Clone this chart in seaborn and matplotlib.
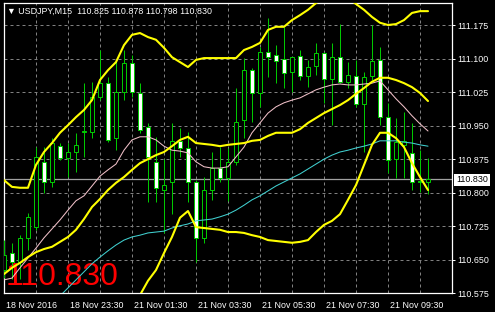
import matplotlib
matplotlib.use("Agg")
import matplotlib.pyplot as plt
import seaborn as sns
import numpy as np
from matplotlib.transforms import ScaledTranslation

# ---------------- data ----------------
bars = list(range(54))
opens = [110.628, 110.666, 110.644, 110.699, 110.723, 110.869, 110.823, 110.904, 110.878, 110.891,
         110.936, 110.936, 111.014, 111.045, 110.922, 111.025, 111.090, 111.023, 110.947, 110.869,
         110.806, 110.823, 110.916, 110.900, 110.823, 110.699, 110.806, 110.855, 110.833, 110.869,
         110.963, 111.074, 111.023, 111.115, 111.108, 111.099, 111.070, 111.106, 111.061, 111.083,
         111.112, 111.054, 111.103, 111.048, 111.061, 110.998, 111.061, 111.097, 110.969, 110.875,
         110.907, 110.889, 110.827, 110.825]
highs = [110.694, 110.688, 110.705, 110.755, 110.902, 110.902, 110.922, 110.911, 110.911, 110.934,
         111.045, 111.048, 111.119, 111.059, 111.097, 111.119, 111.108, 111.045, 110.956, 110.925,
         110.875, 110.956, 110.945, 110.936, 110.828, 110.835, 110.891, 110.902, 110.900, 111.034,
         111.101, 111.079, 111.126, 111.191, 111.130, 111.171, 111.103, 111.119, 111.097, 111.135,
         111.115, 111.135, 111.177, 111.092, 111.097, 111.070, 111.175, 111.126, 111.001, 110.967,
         110.980, 110.956, 110.895, 110.878]
lows = [110.610, 110.606, 110.606, 110.672, 110.717, 110.800, 110.813, 110.873, 110.835, 110.846,
        110.880, 110.922, 111.007, 110.913, 110.895, 111.007, 111.014, 110.934, 110.779, 110.779,
        110.710, 110.752, 110.880, 110.779, 110.644, 110.688, 110.784, 110.824, 110.782, 110.862,
        110.922, 110.958, 110.992, 111.059, 111.045, 111.034, 111.025, 111.052, 111.036, 111.063,
        111.001, 110.951, 111.045, 111.034, 110.992, 110.891, 111.052, 110.951, 110.844, 110.833,
        110.833, 110.806, 110.802, 110.798]
closes = [110.661, 110.646, 110.699, 110.746, 110.880, 110.824, 110.911, 110.878, 110.891, 110.907,
          110.938, 111.014, 111.045, 110.918, 111.025, 111.090, 111.025, 110.940, 110.880, 110.811,
          110.817, 110.916, 110.900, 110.823, 110.699, 110.806, 110.855, 110.833, 110.869, 110.958,
          111.074, 111.023, 111.115, 111.103, 111.095, 111.068, 111.103, 111.061, 111.081, 111.112,
          111.054, 111.103, 111.048, 111.063, 110.998, 111.059, 111.095, 110.969, 110.873, 110.913,
          110.916, 110.824, 110.825, 110.830]

bb_upper = [110.828, 110.813, 110.811, 110.811, 110.862, 110.891, 110.911, 110.934, 110.951, 110.969,
            110.985, 111.007, 111.052, 111.074, 111.092, 111.130, 111.153, 111.157, 111.148, 111.142,
            111.124, 111.103, 111.092, 111.081, 111.097, 111.101, 111.101, 111.101, 111.101, 111.101,
            111.119, 111.126, 111.135, 111.164, 111.171, 111.171, 111.186, 111.197, 111.209, 111.224,
            111.235, 111.242, 111.242, 111.235, 111.222, 111.209, 111.193, 111.180, 111.175, 111.177,
            111.186, 111.202, 111.206, 111.206]
bb_middle = [110.618, 110.632, 110.643, 110.656, 110.667, 110.674, 110.679, 110.690, 110.701, 110.717,
             110.741, 110.768, 110.786, 110.806, 110.822, 110.835, 110.851, 110.866, 110.875, 110.884,
             110.891, 110.904, 110.918, 110.925, 110.911, 110.909, 110.907, 110.904, 110.907, 110.909,
             110.911, 110.916, 110.918, 110.927, 110.934, 110.934, 110.934, 110.942, 110.956, 110.967,
             110.978, 110.987, 110.996, 111.007, 111.021, 111.034, 111.048, 111.057, 111.057, 111.052,
             111.045, 111.036, 111.023, 111.005]
bb_lower = [110.408, 110.450, 110.475, 110.502, 110.473, 110.457, 110.446, 110.446, 110.450, 110.464,
            110.497, 110.529, 110.520, 110.538, 110.551, 110.540, 110.549, 110.571, 110.603, 110.627,
            110.665, 110.701, 110.744, 110.759, 110.723, 110.721, 110.719, 110.717, 110.712, 110.712,
            110.710, 110.705, 110.701, 110.694, 110.692, 110.690, 110.688, 110.690, 110.694, 110.712,
            110.728, 110.737, 110.752, 110.784, 110.817, 110.862, 110.907, 110.934, 110.934, 110.922,
            110.902, 110.866, 110.835, 110.806]
ma_pink = [110.605, 110.609, 110.632, 110.654, 110.676, 110.699, 110.719, 110.739, 110.761, 110.782,
           110.793, 110.815, 110.837, 110.851, 110.864, 110.895, 110.918, 110.925, 110.925, 110.918,
           110.904, 110.895, 110.893, 110.889, 110.869, 110.858, 110.855, 110.855, 110.858, 110.880,
           110.902, 110.934, 110.956, 110.978, 110.992, 111.001, 111.007, 111.012, 111.021, 111.030,
           111.036, 111.041, 111.043, 111.041, 111.041, 111.043, 111.045, 111.050, 111.030, 111.010,
           110.992, 110.972, 110.954, 110.938]
ma_cyan = [110.493, 110.509, 110.524, 110.538, 110.549, 110.560, 110.567, 110.569, 110.587, 110.605,
           110.623, 110.641, 110.656, 110.670, 110.683, 110.694, 110.701, 110.705, 110.710, 110.712,
           110.714, 110.721, 110.726, 110.730, 110.737, 110.739, 110.741, 110.746, 110.752, 110.761,
           110.772, 110.784, 110.793, 110.804, 110.815, 110.824, 110.833, 110.842, 110.853, 110.864,
           110.875, 110.884, 110.891, 110.895, 110.900, 110.904, 110.909, 110.916, 110.916, 110.916,
           110.913, 110.911, 110.907, 110.904]

time_tick_bars = [0, 8, 16, 24, 32, 40, 48]
time_tick_labels = ["18 Nov 2016", "18 Nov 23:30", "21 Nov 01:30", "21 Nov 03:30",
                    "21 Nov 05:30", "21 Nov 07:30", "21 Nov 09:30"]
price_ticks = [110.575, 110.650, 110.725, 110.800, 110.875, 110.950, 111.025, 111.100, 111.175]
symbol_text = "USDJPY,M15"
last_bar_values = ["110.825", "110.878", "110.798", "110.830"]
bid_price = 110.830

# ---------------- styling ----------------
W, H = 495, 312
GREEN = "#00c800"
YELLOW = "#ffff00"
PINK = "#f0c0c8"
CYAN = "#40d0d0"
GRID = "#808080"

sns.set_style("dark")
plt.rcParams["font.family"] = ["Liberation Sans", "DejaVu Sans"]

fig = plt.figure(figsize=(W / 100, H / 100), dpi=100, facecolor="black")
ax = fig.add_axes([3.5 / W, 1 - 293.3 / H, (452 - 3.5) / W, (293.3 - 3) / H])
ax.set_facecolor("black")

# big red price label behind the candles
ax.text(6 / W, 1 - 285 / H, last_bar_values[-1], color="#ff0000", fontsize=23,
        va="baseline", ha="left", transform=fig.transFigure, zorder=2, clip_on=False)

# candles
bull = [c >= o for o, c in zip(opens, closes)]
ax.vlines(bars, lows, highs, color=GREEN, linewidth=0.72, zorder=3)
body_bottom = [min(o, c) for o, c in zip(opens, closes)]
body_height = [max(abs(c - o), 0.0005) for o, c in zip(opens, closes)]
ax.bar(bars, body_height, bottom=body_bottom, width=0.5,
       color=["black" if b else "white" for b in bull],
       edgecolor=GREEN, linewidth=0.72, zorder=4)

# indicator lines
for series, col, lw in [(ma_cyan, CYAN, 0.75), (ma_pink, PINK, 0.75),
                        (bb_lower, YELLOW, 1.5), (bb_middle, YELLOW, 1.5), (bb_upper, YELLOW, 1.5)]:
    sns.lineplot(x=bars, y=series, ax=ax, color=col, linewidth=lw, zorder=5, legend=False)

# bid line
ax.axhline(bid_price, color="#a0a0a0", linewidth=0.9, zorder=1)

# axes
ax.set_xlim(-0.06, 56.0)
ax.set_ylim(110.5751, 111.2242)
ax.yaxis.tick_right()
ax.set_yticks(price_ticks)
ax.set_yticklabels([f"{p:.3f}" for p in price_ticks])
ax.set_xticks(time_tick_bars)
ax.set_xticklabels(time_tick_labels)
ax.set_xticks([b for b in range(4, 56, 8)], minor=True)
ax.tick_params(axis="both", which="major", colors="white", labelcolor="white",
               labelsize=6.4, length=2.2, width=0.72, pad=1.8)
ax.tick_params(axis="x", which="minor", length=0)
ax.tick_params(axis="x", which="major", pad=3)
for lab in ax.get_xticklabels():
    lab.set_ha("left")
    lab.set_transform(lab.get_transform() + ScaledTranslation(2.5 / 100, 0, fig.dpi_scale_trans))
ax.set_xlabel("")
ax.set_ylabel("")
ax.grid(True, which="major", axis="y", color=GRID, linestyle=(0, (3, 3)), linewidth=0.72, zorder=0)
ax.grid(True, which="both", axis="x", color=GRID, linestyle=(0, (3, 3)), linewidth=0.72, zorder=0)
ax.set_axisbelow(True)
for s in ax.spines.values():
    s.set_color("white")
    s.set_linewidth(0.9)
    s.set_visible(True)

# texts
fig.text(7 / W, 1 - 14 / H, "\u25bc " + symbol_text + "  " + " ".join(last_bar_values),
         color="white", fontsize=6.4, va="baseline", ha="left")
fig.text(456 / W, 1 - 180 / H, f"{bid_price:.3f}", color="black", fontsize=6.4,
         va="center", ha="left",
         bbox=dict(facecolor="white", edgecolor="none", pad=1.2))

fig.savefig("out.png", dpi=100, facecolor="black")
